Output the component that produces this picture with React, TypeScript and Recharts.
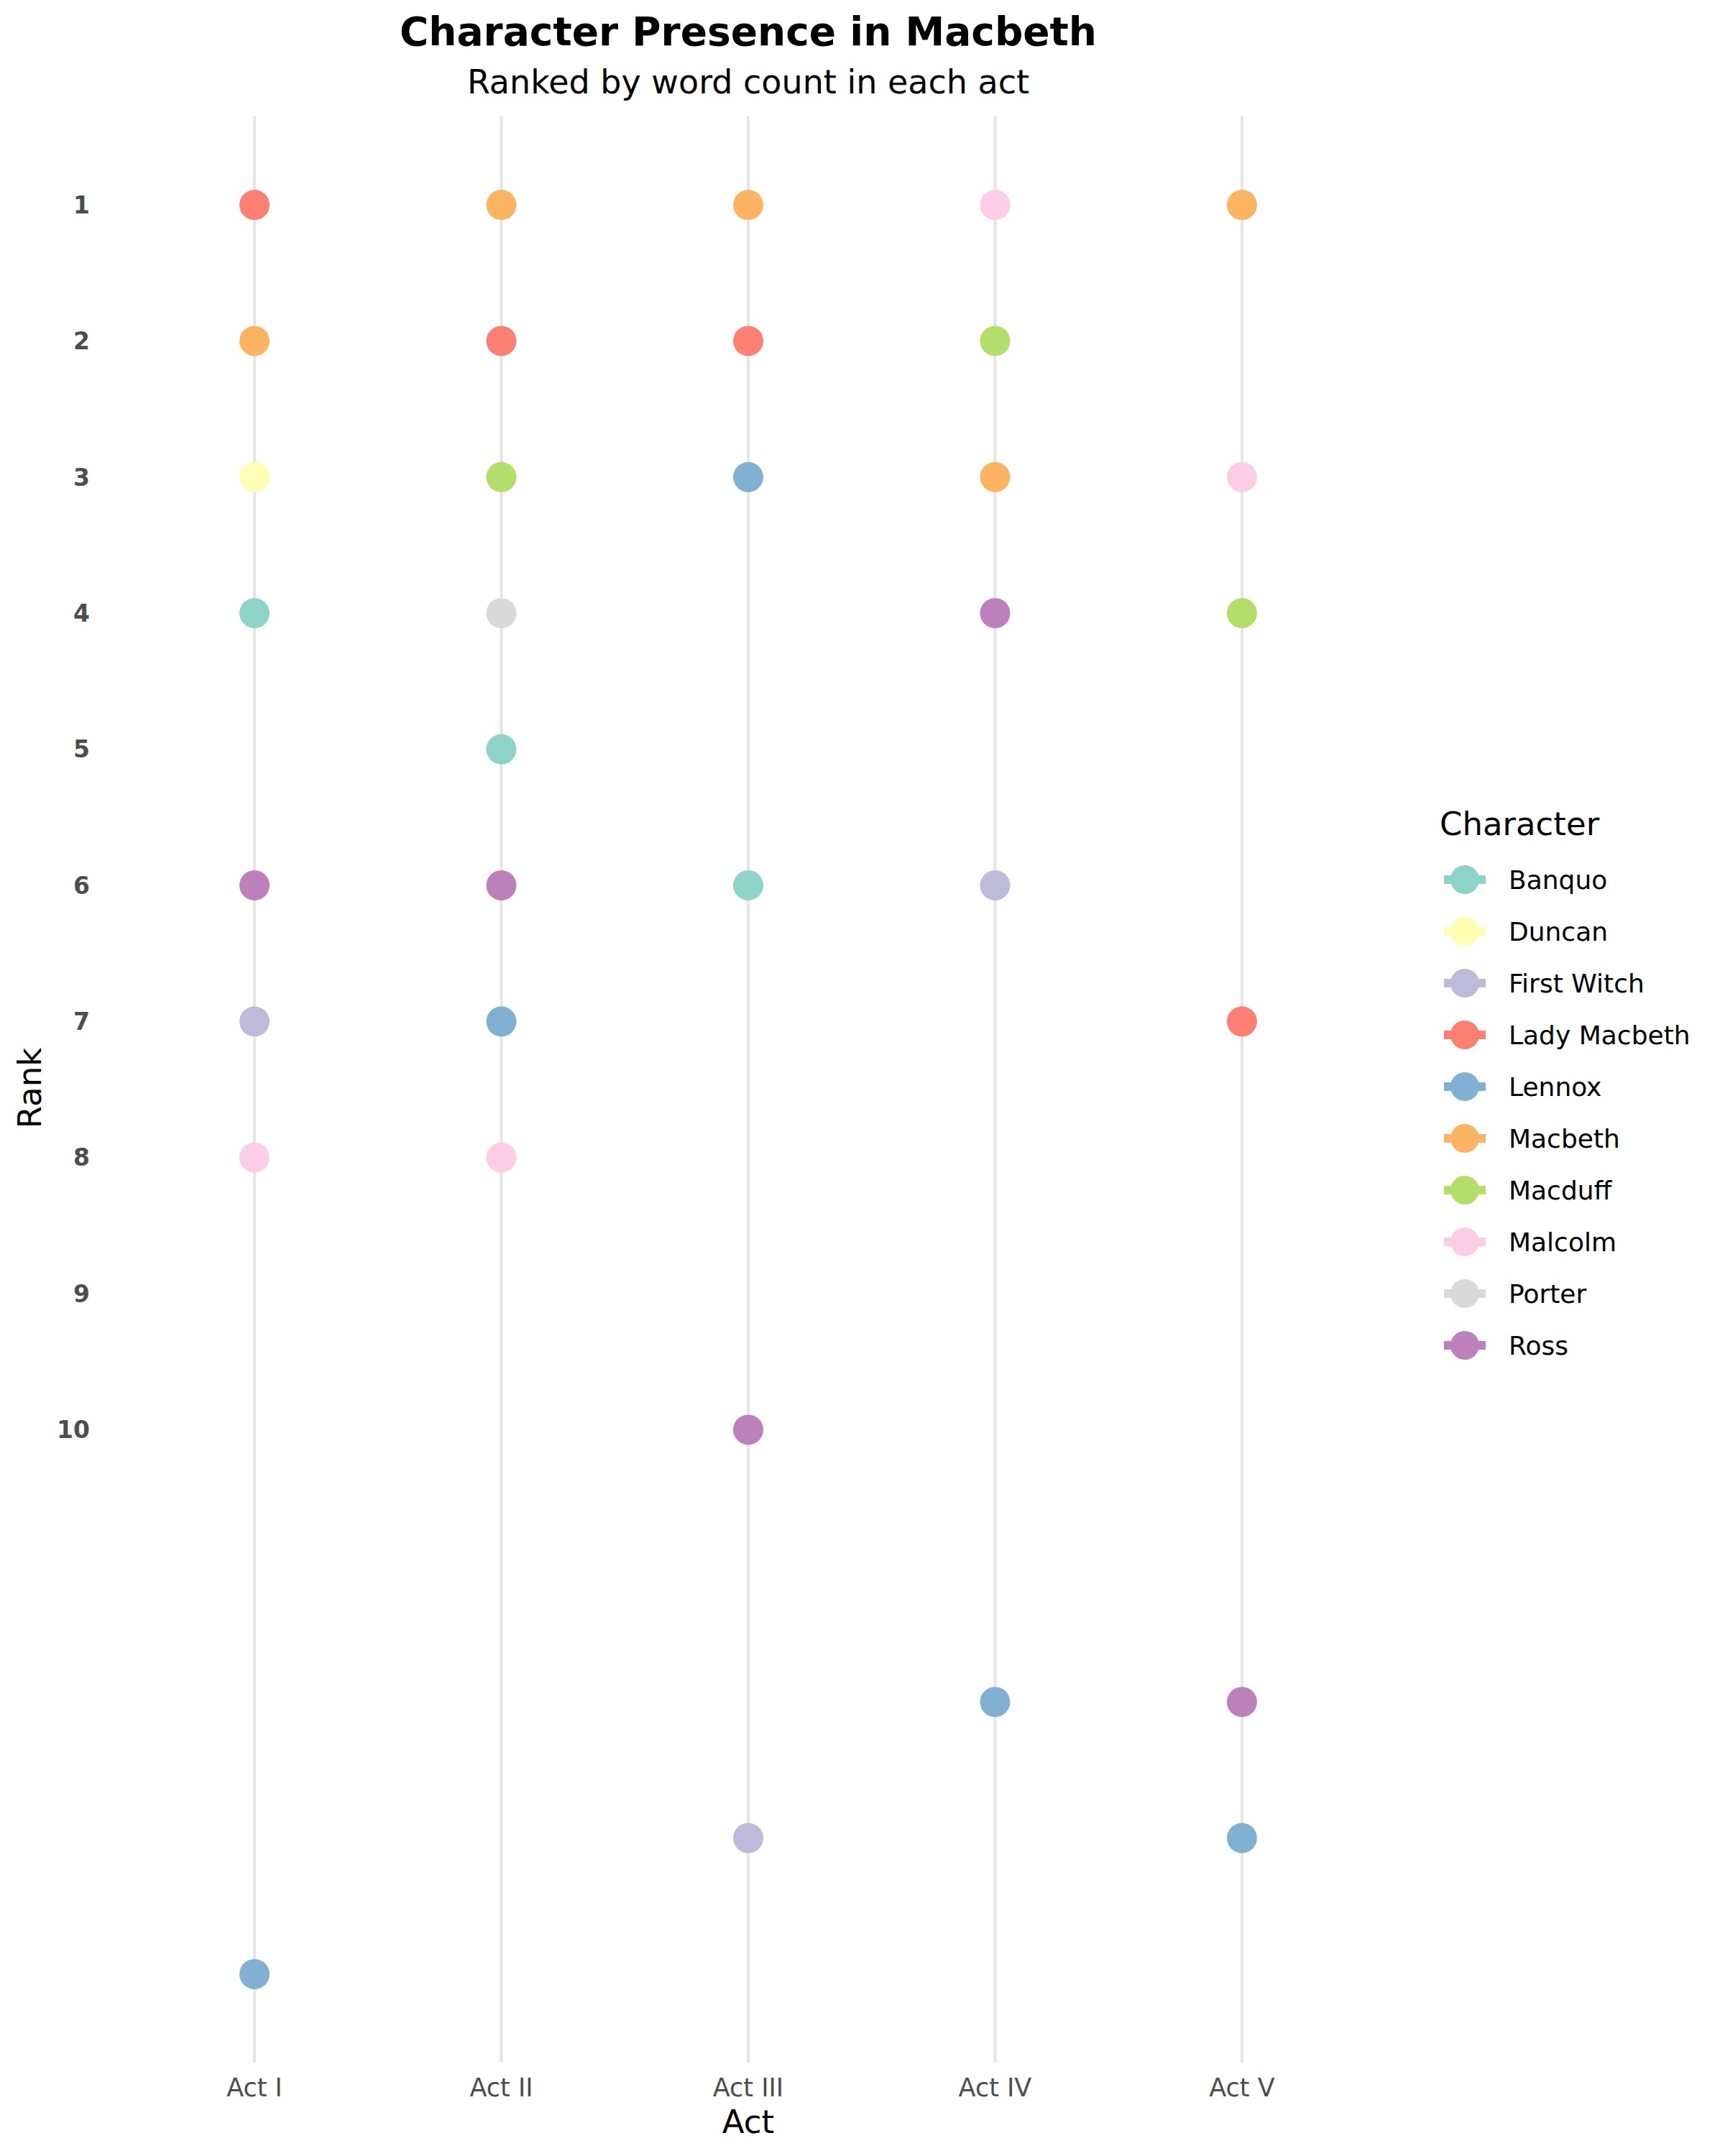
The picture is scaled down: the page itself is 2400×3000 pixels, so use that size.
import React from "react";
import { ScatterChart, Scatter, XAxis, YAxis, ReferenceLine, Legend } from "recharts";

const acts = ["Act I", "Act II", "Act III", "Act IV", "Act V"];
const characters = [
  "Banquo",
  "Duncan",
  "First Witch",
  "Lady Macbeth",
  "Lennox",
  "Macbeth",
  "Macduff",
  "Malcolm",
  "Porter",
  "Ross",
];
const colors = [
  "#8dd3c7",
  "#ffffb3",
  "#bebada",
  "#fb8072",
  "#80b1d3",
  "#fdb462",
  "#b3de69",
  "#fccde5",
  "#d9d9d9",
  "#bc80bd",
];

// rank in each act, null where the character is not ranked
const banquoRanks = [4, 5, 6, null, null];
const duncanRanks = [3, null, null, null, null];
const firstWitchRanks = [7, null, 13, 6, null];
const ladyMacbethRanks = [1, 2, 2, null, 7];
const lennoxRanks = [14, 7, 3, 12, 13];
const macbethRanks = [2, 1, 1, 3, 1];
const macduffRanks = [null, 3, null, 2, 4];
const malcolmRanks = [8, 8, null, 1, 3];
const porterRanks = [null, 4, null, null, null];
const rossRanks = [6, 6, 10, 4, 12];

const rankTicks = [1, 2, 3, 4, 5, 6, 7, 8, 9, 10];
const actTicks = [0, 1, 2, 3, 4];

const allRanks = [
  banquoRanks,
  duncanRanks,
  firstWitchRanks,
  ladyMacbethRanks,
  lennoxRanks,
  macbethRanks,
  macduffRanks,
  malcolmRanks,
  porterRanks,
  rossRanks,
];

const FONT = "DejaVu Sans, Verdana, sans-serif";

function toPoints(ranks: (number | null)[]) {
  return ranks
    .map((r, i) => (r == null ? null : { act: i, rank: r }))
    .filter((p) => p !== null) as { act: number; rank: number }[];
}

function LegendBox() {
  return (
    <svg width={410} height={820} style={{ overflow: "visible" }}>
      <text x={13} y={62} fontSize={45} fontFamily={FONT} fill="#000">
        Character
      </text>
      {characters.map((name, i) => {
        const cy = 124 + i * 72;
        return (
          <g key={name}>
            <line x1={19} x2={77} y1={cy} y2={cy} stroke={colors[i]} strokeWidth={12} />
            <circle cx={48} cy={cy} r={20} fill={colors[i]} />
            <text x={109} y={cy + 13} fontSize={36} fontFamily={FONT} fill="#000">
              {name}
            </text>
          </g>
        );
      })}
    </svg>
  );
}

export default function App() {
  return (
    <div style={{ position: "relative", width: 2400, height: 3000, background: "#fff" }}>
      <style>{"body{margin:0}"}</style>
      <ScatterChart
        width={2400}
        height={3000}
        margin={{ top: 162, right: 466, bottom: 30, left: 48 }}
      >
        <XAxis
          type="number"
          dataKey="act"
          domain={[-0.6, 4.6]}
          ticks={actTicks}
          allowDataOverflow
          height={100}
          axisLine={false}
          tickLine={false}
          tickSize={0}
          tickMargin={22}
          tickFormatter={(v: number) => acts[v]}
          tick={{ fill: "#4d4d4d", fontSize: 35, fontFamily: FONT }}
        />
        <YAxis
          type="number"
          dataKey="rank"
          reversed
          domain={[0.35, 14.65]}
          ticks={rankTicks}
          allowDataOverflow
          width={100}
          axisLine={false}
          tickLine={false}
          tickSize={0}
          tickMargin={23}
          tick={{ fill: "#4d4d4d", fontSize: 33, fontWeight: "bold", fontFamily: FONT }}
        />
        {actTicks.map((t) => (
          <ReferenceLine key={`grid-${t}`} x={t} stroke="#e5e5e5" strokeWidth={4} />
        ))}
        {characters.map((name, i) => (
          <Scatter
            key={name}
            name={name}
            data={toPoints(allRanks[i])}
            fill={colors[i]}
            isAnimationActive={false}
            shape={(p: any) => <circle cx={p.cx} cy={p.cy} r={21} fill={colors[i]} />}
          />
        ))}
        <Legend
          layout="vertical"
          align="center"
          verticalAlign="middle"
          content={() => <LegendBox />}
          wrapperStyle={{ left: 1990, top: 1100, width: 410, height: 820 }}
        />
      </ScatterChart>
      <svg
        width={2400}
        height={3000}
        style={{ position: "absolute", left: 0, top: 0, pointerEvents: "none" }}
      >
        <text x={1041} y={63} textAnchor="middle" fontSize={55} fontWeight="bold" fontFamily={FONT} fill="#000">
          Character Presence in Macbeth
        </text>
        <text x={1041} y={130} textAnchor="middle" fontSize={46} fontFamily={FONT} fill="#000">
          Ranked by word count in each act
        </text>
        <text x={1041} y={2968} textAnchor="middle" fontSize={45} fontFamily={FONT} fill="#000">
          Act
        </text>
        <text
          transform="translate(57,1514) rotate(-90)"
          textAnchor="middle"
          fontSize={45}
          fontFamily={FONT}
          fill="#000"
        >
          Rank
        </text>
      </svg>
    </div>
  );
}
